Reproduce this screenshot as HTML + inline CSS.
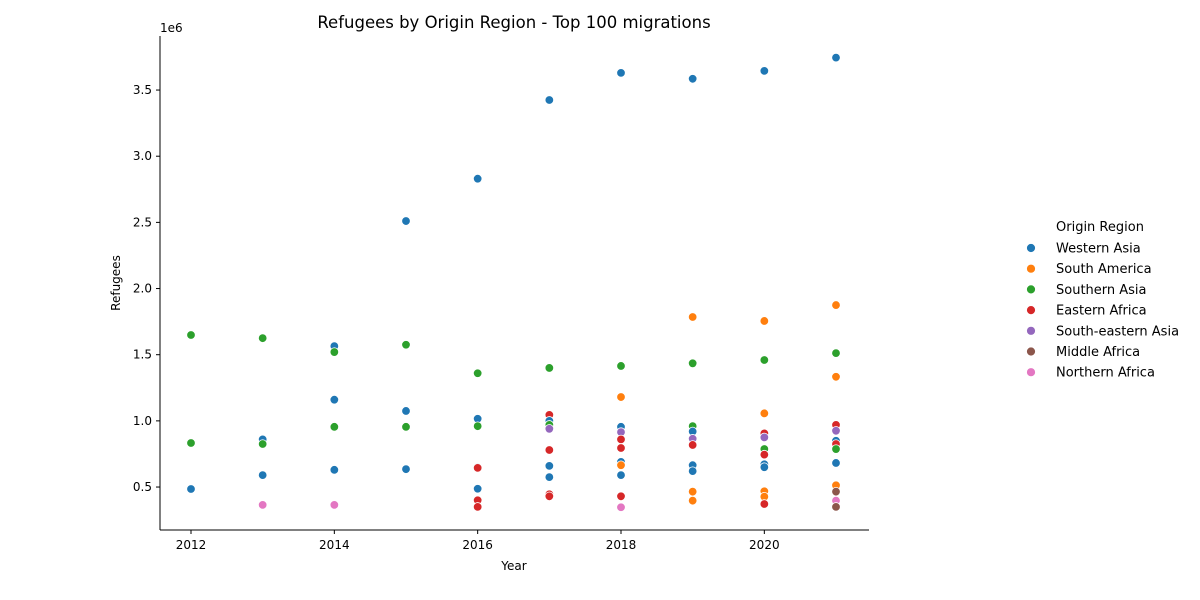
<!DOCTYPE html>
<html><head><meta charset="utf-8"><style>
body{margin:0;background:#fff;}
svg{display:block;font-family:"DejaVu Sans","Liberation Sans",sans-serif;}
</style></head><body>
<svg id="chart" width="1200" height="600" viewBox="0 0 1200 600">
<text x="514" y="28" text-anchor="middle" font-size="16.5" fill="#000">Refugees by Origin Region - Top 100 migrations</text>
<g id="axes"></g>
<g id="points"></g>
<g id="legend"></g>
</svg>
<script>
const regions = ["Western Asia","South America","Southern Asia","Eastern Africa","South-eastern Asia","Middle Africa","Northern Africa"];
const colors = ["#1f77b4","#ff7f0e","#2ca02c","#d62728","#9467bd","#8c564b","#e377c2"];
const years = [2012,2012,2012,2013,2013,2013,2013,2013,2014,2014,2014,2014,2014,2014,2015,2015,2015,2015,2015,
2016,2016,2016,2016,2016,2016,2016,2016,2016,2016,
2017,2017,2017,2017,2017,2017,2017,2017,2017,2017,2017,
2018,2018,2018,2018,2018,2018,2018,2018,2018,2018,2018,2018,
2019,2019,2019,2019,2019,2019,2019,2019,2019,2019,2019,
2020,2020,2020,2020,2020,2020,2020,2020,2020,2020,2020,2020,2020,
2021,2021,2021,2021,2021,2021,2021,2021,2021,2021,2021,2021,2021,2021];
const regionIdx = [0,2,2,0,0,2,2,6,0,0,0,2,2,6,0,0,0,2,2,
0,0,0,2,2,0,3,3,3,0,
0,2,3,0,2,4,3,0,0,3,3,
0,1,2,0,4,3,3,0,1,0,3,6,
0,1,2,2,0,4,3,0,0,1,1,
0,1,2,1,3,4,2,3,0,0,1,1,3,
0,1,2,1,3,4,0,3,2,0,1,5,6,5];
const values = [0.485,1.649,0.833,0.86,0.59,1.625,0.825,0.365,1.565,1.16,0.63,1.52,0.955,0.365,2.51,1.075,0.635,1.575,0.955,
2.83,1.016,0.487,1.36,0.96,0.65,0.645,0.40,0.35,0.487,
3.425,1.40,1.045,1.0,0.97,0.94,0.78,0.66,0.575,0.445,0.43,
3.63,1.18,1.415,0.955,0.915,0.86,0.795,0.69,0.665,0.59,0.43,0.347,
3.585,1.785,1.435,0.96,0.92,0.865,0.818,0.665,0.62,0.465,0.397,
3.645,1.755,1.46,1.057,0.905,0.875,0.787,0.745,0.672,0.65,0.468,0.427,0.372,
3.745,1.875,1.512,1.333,0.97,0.925,0.85,0.825,0.787,0.682,0.513,0.465,0.397,0.35];
const xTicks = [2012,2014,2016,2018,2020];
const yTicks = [0.5,1.0,1.5,2.0,2.5,3.0,3.5];

const NS="http://www.w3.org/2000/svg";
const L=160,R=869,T=36,B=530;
const xS=v=>191+(v-2012)*(836-191)/9;
const yS=v=>553.2-v*132.33;
function mk(tag,attrs,parent){const e=document.createElementNS(NS,tag);for(const k in attrs)e.setAttribute(k,attrs[k]);parent.appendChild(e);return e;}
const axes=document.getElementById('axes');
let e=mk('line',{x1:L,y1:T,x2:L,y2:B,stroke:'#000','stroke-width':1},axes);


e=mk('line',{x1:L,y1:B,x2:R,y2:B,stroke:'#000','stroke-width':1},axes);


xTicks.forEach(t=>{
 const x=xS(t);
 mk('line',{x1:x,y1:B,x2:x,y2:B+4,stroke:'#000'},axes);
 const tx=mk('text',{x:x,y:B+19,'text-anchor':'middle','font-size':12},axes);
 tx.textContent=t;
 
 
});
yTicks.forEach(t=>{
 const y=yS(t);
 mk('line',{x1:L-4,y1:y,x2:L,y2:y,stroke:'#000'},axes);
 const tx=mk('text',{x:L-8,y:y+4,'text-anchor':'end','font-size':12},axes);
 tx.textContent=t.toFixed(1);
 
 
});
e=mk('text',{x:160,y:32,'font-size':12},axes);e.textContent='1e6';


e=mk('text',{x:514,y:570,'text-anchor':'middle','font-size':12},axes);e.textContent='Year';


e=mk('text',{x:120,y:283,'text-anchor':'middle','font-size':12,transform:'rotate(-90 120 283)'},axes);e.textContent='Refugees';



const pts=document.getElementById('points');
values.forEach((v,i)=>{
 const c=mk('circle',{cx:xS(years[i]),cy:yS(v),r:4.3,fill:colors[regionIdx[i]],stroke:'#fff','stroke-width':0.8},pts);
 
 
});

const lg=document.getElementById('legend');
e=mk('text',{x:1056,y:231,'font-size':13},lg);e.textContent='Origin Region';


regions.forEach((r,i)=>{
 const y=248+i*20.7;
 const g=mk('g',{},lg);
 
 
 mk('circle',{cx:1031,cy:y,r:4.5,fill:colors[i],stroke:'#fff','stroke-width':0.8},g);
 const t=mk('text',{x:1056,y:y+4.5,'font-size':13},g);t.textContent=r;
});
</script>
</body></html>
